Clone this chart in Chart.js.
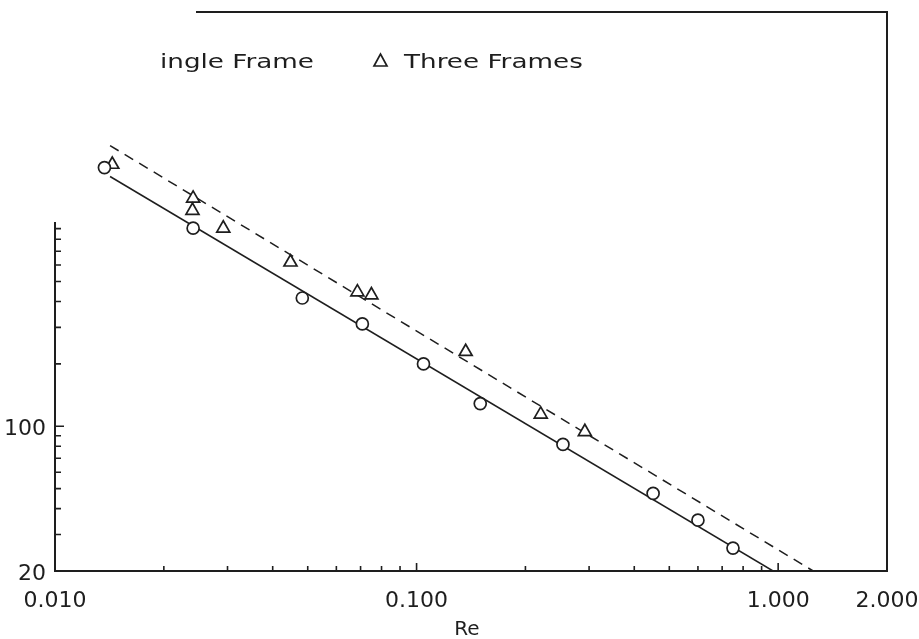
<!DOCTYPE html>
<html>
<head>
<meta charset="utf-8">
<script src="https://cdn.jsdelivr.net/npm/chart.js@4.4.1/dist/chart.umd.min.js"></script>
<style>
    html, body { margin: 0; padding: 0; background: #fff; }
    #chart { display: block; }
</style>
</head>
<body>
<canvas id="chart" width="919" height="639"></canvas>
<script>
// Single frame runs (circles)
const singleRe = [0.0137, 0.0241, 0.0483, 0.0708, 0.1045, 0.150, 0.254, 0.451, 0.600, 0.750];
const singleY  = [1774, 904, 416, 312, 200, 128.6, 81.7, 47.4, 35.2, 25.8];

// Three frame runs (triangles)
const threeRe = [0.0144, 0.0241, 0.0240, 0.0292, 0.0448, 0.0686, 0.0750, 0.1367, 0.2205, 0.292];
const threeY  = [1835, 1260, 1100, 903, 619, 444, 430, 229, 114, 94];

// Fitted lines, end points
const singleFitRe = [0.0142, 0.968];
const singleFitY  = [1606, 20];
const threeFitRe  = [0.0142, 1.25];
const threeFitY   = [2265, 20];

// Axis labels
const xTickLabels = [0.01, 0.1, 1, 2];
const yTickLabels = [20, 100, 1000, 10000];
const xTitle = 'Re';
const legendNames = ['Single Frame', 'Three Frames'];

const ink = '#1e1e1e';

function pts(xs, ys) {
    return xs.map((x, i) => ({ x: x, y: ys[i] }));
}

// minor ticks 2..9 in every decade between lo and hi
function logTicks(lo, hi) {
    let out = [];
    for (let d = Math.pow(10, Math.floor(Math.log10(lo))); d < hi; d *= 10) {
        for (let m = 1; m <= 9; m++) {
            let v = +(m * d).toPrecision(3);
            if (v >= lo && v <= hi) out.push({ v: v, major: m === 1 });
        }
    }
    return out;
}

// plotter lettering is wide, so stretch the text sideways
function wideText(ctx, text, x, y, sx) {
    ctx.save();
    ctx.translate(x, y);
    ctx.scale(sx, 1);
    ctx.fillText(text, 0, 0);
    ctx.restore();
}

const framePlugin = {
    id: 'frame',
    afterDraw(chart) {
        const ctx = chart.ctx;
        const a = chart.chartArea;
        const xs = chart.scales.x, ys = chart.scales.y;
        ctx.save();

        // box round the plot
        ctx.strokeStyle = ink;
        ctx.lineWidth = 2;
        ctx.strokeRect(a.left, a.top, a.right - a.left, a.bottom - a.top);

        // inward ticks
        ctx.lineWidth = 1.6;
        ctx.beginPath();
        logTicks(xs.min, xs.max).forEach(t => {
            let px = xs.getPixelForValue(t.v);
            ctx.moveTo(px, a.bottom);
            ctx.lineTo(px, a.bottom - (t.major ? 8 : 5));
        });
        logTicks(ys.min, ys.max).forEach(t => {
            let py = ys.getPixelForValue(t.v);
            ctx.moveTo(a.left, py);
            ctx.lineTo(a.left + (t.major ? 9 : 6), py);
        });
        ctx.stroke();

        // tick labels
        ctx.fillStyle = ink;
        ctx.font = '22px "DejaVu Sans"';
        ctx.textAlign = 'center';
        ctx.textBaseline = 'alphabetic';
        xTickLabels.forEach(v => {
            ctx.fillText(v.toFixed(3), xs.getPixelForValue(v), a.bottom + 36);
        });
        ctx.textAlign = 'right';
        yTickLabels.forEach(v => {
            ctx.fillText(String(v), a.left - 9, ys.getPixelForValue(v) + 9);
        });

        // axis title
        ctx.font = '20px "DejaVu Sans"';
        ctx.textAlign = 'center';
        ctx.fillText(xTitle, 467, a.bottom + 64);

        // legend
        const sx = 1.38;
        ctx.font = '19px "DejaVu Sans"';
        ctx.textAlign = 'left';
        let w0 = ctx.measureText(legendNames[0]).width * sx;
        let x0 = 314 - w0;
        wideText(ctx, legendNames[0], x0, 68, sx);
        ctx.lineWidth = 1.7;
        ctx.beginPath();
        ctx.arc(x0 - 20, 61, 6, 0, Math.PI * 2);
        ctx.stroke();
        ctx.beginPath();
        ctx.moveTo(374, 66);
        ctx.lineTo(387, 66);
        ctx.lineTo(380.5, 54);
        ctx.closePath();
        ctx.stroke();
        wideText(ctx, legendNames[1], 404, 68, sx);

        // blank patch over the top-left corner
        ctx.fillStyle = '#fff';
        ctx.beginPath();
        ctx.moveTo(0, 0);
        ctx.lineTo(196, 0);
        ctx.lineTo(196, 30);
        ctx.lineTo(159, 30);
        ctx.lineTo(159, 85);
        ctx.lineTo(75, 85);
        ctx.lineTo(75, 222);
        ctx.lineTo(52, 222);
        ctx.lineTo(52, 236);
        ctx.lineTo(0, 236);
        ctx.closePath();
        ctx.fill();

        ctx.restore();
    }
};

new Chart(document.getElementById('chart').getContext('2d'), {
    type: 'scatter',
    data: {
        datasets: [
            {
                label: legendNames[0],
                data: pts(singleRe, singleY),
                pointStyle: 'circle',
                pointRadius: 6,
                pointBorderWidth: 1.7,
                borderColor: ink,
                backgroundColor: '#fff',
                order: 1
            },
            {
                label: legendNames[1],
                data: pts(threeRe, threeY),
                pointStyle: 'triangle',
                pointRadius: 7.5,
                pointBorderWidth: 1.7,
                borderColor: ink,
                backgroundColor: '#fff',
                order: 1
            },
            {
                label: 'single fit',
                data: pts(singleFitRe, singleFitY),
                showLine: true,
                pointRadius: 0,
                borderColor: ink,
                borderWidth: 1.5,
                order: 2
            },
            {
                label: 'three fit',
                data: pts(threeFitRe, threeFitY),
                showLine: true,
                pointRadius: 0,
                borderColor: ink,
                borderWidth: 1.5,
                borderDash: [10, 7],
                order: 2
            }
        ]
    },
    options: {
        responsive: false,
        animation: false,
        layout: { padding: { left: 55, right: 32, top: 12, bottom: 68 } },
        plugins: {
            legend: { display: false },
            tooltip: { enabled: false }
        },
        scales: {
            x: { type: 'logarithmic', min: 0.01, max: 2, display: false },
            y: { type: 'logarithmic', min: 20, max: 10000, display: false }
        }
    },
    plugins: [framePlugin]
});
</script>
</body>
</html>
